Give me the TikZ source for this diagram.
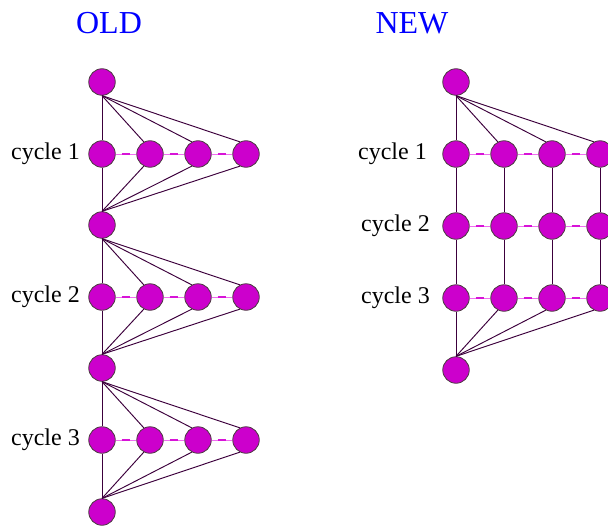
\documentclass[tikz,border=0pt]{standalone}
\usepackage{fontspec}
\setmainfont{Liberation Serif}
\begin{document}
\begin{tikzpicture}[x=1pt,y=-1pt,
  vtx/.style={circle,draw=black!80!magenta,fill=nodemag,line width=0.8pt,minimum size=26.5pt,inner sep=0pt},
  edge/.style={draw=edgecol,line width=0.95pt},
  ring/.style={draw=pinkline,line width=0.9pt},
  ringdash/.style={draw=dashmag,line width=2.6pt,shorten <=6pt,shorten >=6pt},
  lab/.style={font=\fontsize{24}{24}\selectfont,anchor=base east,inner sep=0pt},
  ttl/.style={font=\fontsize{32}{32}\selectfont,text=blue,anchor=base,inner sep=0pt}]
\definecolor{nodemag}{RGB}{204,0,204}
\definecolor{edgecol}{RGB}{60,0,60}
\definecolor{pinkline}{RGB}{240,110,240}
\definecolor{dashmag}{RGB}{215,20,215}
\definecolor{blue}{RGB}{0,0,255}
\useasboundingbox (0,0) rectangle (608,527);
\clip (0,0) rectangle (608,527);
\node[ttl] (told) at (109,34) {OLD};
\node[ttl] (tnew) at (412,34) {NEW};
% OLD
\foreach \h/\y in {0/82,1/225,2/368,3/512}{\node[vtx] (oh\h) at (102,\y) {};}
\foreach \c/\y in {1/154,2/297,3/440}{
  \foreach \i/\x in {1/102,2/150,3/198,4/246}{\node[vtx] (o\c\i) at (\x,\y) {};}
  \node[lab] (ol\c) at (80,\y+5) {cycle \c};
}
\foreach \c/\p/\n in {1/0/1,2/1/2,3/2/3}{
  \draw[edge] (oh\p.south) -- (o\c1.north);
  \draw[edge] (o\c1.south) -- (oh\n.north);
  \foreach \i in {2,3,4}{
    \draw[edge] (oh\p.south) -- (o\c\i.117);
    \draw[edge] (o\c\i.243) -- (oh\n.north);
  }
  \foreach \a/\b in {1/2,2/3,3/4}{
    \draw[ring] (o\c\a) -- (o\c\b);
    \draw[ringdash] (o\c\a) -- (o\c\b);
  }
}
% NEW
\node[vtx] (nt) at (456,82) {};
\node[vtx] (nb) at (456,370) {};
\foreach \c/\y/\lx in {1/154/427,2/226/430,3/298/430}{
  \foreach \i/\x in {1/456,2/504,3/552,4/600}{\node[vtx] (n\c\i) at (\x,\y) {};}
  \node[lab] (nl\c) at (\lx,\y+5) {cycle \c};
  \foreach \a/\b in {1/2,2/3,3/4}{
    \draw[ring] (n\c\a) -- (n\c\b);
    \draw[ringdash] (n\c\a) -- (n\c\b);
  }
}
\draw[edge] (nt.south) -- (n11.north);
\draw[edge] (n31.south) -- (nb.north);
\foreach \i in {2,3,4}{
  \draw[edge] (nt.south) -- (n1\i.117);
  \draw[edge] (n3\i.243) -- (nb.north);
}
\foreach \i in {1,2,3,4}{
  \draw[edge] (n1\i) -- (n2\i);
  \draw[edge] (n2\i) -- (n3\i);
}
\end{tikzpicture}
\end{document}
